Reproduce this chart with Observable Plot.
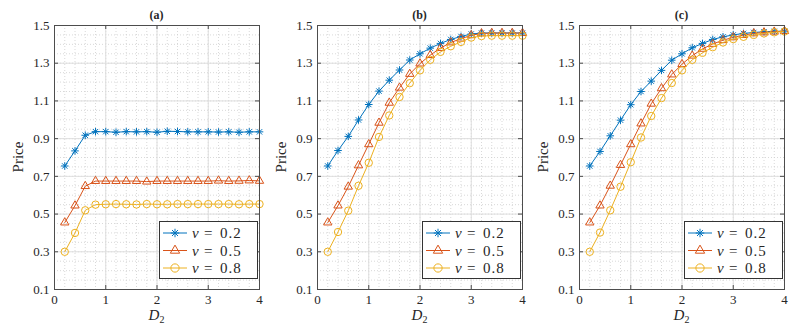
<!DOCTYPE html>
<html><head><meta charset="utf-8">
<script src="https://cdn.jsdelivr.net/npm/d3@7"></script>
<script src="https://cdn.jsdelivr.net/npm/@observablehq/plot@0.6"></script>
<style>
html,body{margin:0;padding:0;background:#fff;}
#chart{position:relative;width:797px;height:332px;color:#262626;overflow:hidden;}
.panel{position:absolute;top:0;}
.title{position:absolute;top:8px;font-weight:bold;font-size:12px;transform:translateX(-50%);white-space:nowrap;}
.ylab{position:absolute;font-size:15px;white-space:nowrap;transform:translate(-50%,-50%) rotate(-90deg);}
.xlab{position:absolute;top:307px;font-size:15px;transform:translateX(-50%);white-space:nowrap;}
.xlab i{font-style:italic;}
.xlab sub{font-size:10px;vertical-align:-3px;}
.legend{position:absolute;}
</style></head><body><div id="chart"></div>
<script>
// x values (D2)
const D2 = [0.2,0.4,0.6,0.8,1.0,1.2,1.4,1.6,1.8,2.0,2.2,2.4,2.6,2.8,3.0,3.2,3.4,3.6,3.8,4.0];
// Panel (a)
const a_nu02 = [0.755,0.835,0.918,0.937,0.937,0.934,0.937,0.936,0.937,0.934,0.939,0.938,0.936,0.936,0.936,0.935,0.936,0.934,0.936,0.936];
const a_nu05 = [0.455,0.545,0.648,0.675,0.675,0.675,0.675,0.675,0.672,0.675,0.675,0.675,0.675,0.675,0.675,0.677,0.675,0.676,0.678,0.676];
const a_nu08 = [0.300,0.400,0.520,0.550,0.552,0.553,0.552,0.551,0.553,0.552,0.552,0.553,0.553,0.553,0.553,0.553,0.553,0.552,0.553,0.553];
// Panel (b)
const b_nu02 = [0.755,0.837,0.912,0.999,1.081,1.152,1.210,1.264,1.317,1.350,1.380,1.405,1.426,1.442,1.455,1.460,1.460,1.460,1.460,1.460];
const b_nu05 = [0.455,0.545,0.645,0.758,0.870,0.984,1.090,1.170,1.243,1.298,1.343,1.380,1.410,1.430,1.448,1.458,1.460,1.460,1.460,1.460];
const b_nu08 = [0.300,0.405,0.518,0.650,0.772,0.909,1.023,1.121,1.194,1.262,1.318,1.360,1.390,1.413,1.436,1.444,1.446,1.446,1.446,1.446];
// Panel (c)
const c_nu02 = [0.755,0.832,0.915,0.998,1.080,1.150,1.205,1.262,1.316,1.350,1.382,1.405,1.426,1.440,1.450,1.458,1.463,1.467,1.469,1.470];
const c_nu05 = [0.455,0.545,0.650,0.760,0.870,0.980,1.085,1.167,1.240,1.295,1.340,1.376,1.402,1.422,1.437,1.449,1.458,1.463,1.467,1.470];
const c_nu08 = [0.300,0.402,0.520,0.645,0.775,0.906,1.020,1.115,1.195,1.262,1.318,1.355,1.385,1.410,1.428,1.440,1.450,1.458,1.464,1.468];

const panelTitles = ["(a)","(b)","(c)"];
const panelSeries = [[a_nu02,a_nu05,a_nu08],[b_nu02,b_nu05,b_nu08],[c_nu02,c_nu05,c_nu08]];
const nuValues = ["0.2","0.5","0.8"];
const colors = ["#0072BD","#D95319","#EDB120"];
const xTicks = [0,1,2,3,4];
const yTicks = [0.1,0.3,0.5,0.7,0.9,1.1,1.3,1.5];
const xMinor = d3.range(0,21).map(i=>i/5);
const yMinor = d3.range(2,31).map(i=>i/20);

// pick an installed serif font
function hasFont(name){
  const c=document.createElement("canvas").getContext("2d");
  const s="Price 0.123456789 νD";
  for(const base of ["monospace","sans-serif"]){
    c.font=`72px ${base}`;const w0=c.measureText(s).width;
    c.font=`72px "${name}", ${base}`;const w1=c.measureText(s).width;
    if(Math.abs(w0-w1)>0.5) return true;
  }
  return false;
}
const serifCandidates=["Liberation Serif","Tinos","Times New Roman","Times","Nimbus Roman","Nimbus Roman No9 L","FreeSerif","DejaVu Serif","Noto Serif","STIX Two Text","Georgia"];
const found=serifCandidates.find(hasFont);
const FONT=(found?`'${found}', `:"")+"serif";
document.getElementById("chart").style.fontFamily=FONT;

const W=265,H=332,ML=54,MR=6,MT=25,MB=43;
const plotW=W-ML-MR, plotH=H-MT-MB;
const panelLefts=[0,263,525];

const asterisk = {draw(ctx,size){const r=Math.sqrt(size/Math.PI);
  for(const a of [0,45,90,135]){const t=a*Math.PI/180,dx=r*Math.cos(t),dy=r*Math.sin(t);ctx.moveTo(-dx,-dy);ctx.lineTo(dx,dy);}}};
const symbols=[asterisk,"triangle","circle"];
const radii=[3.8,3.1,3.7];
const axisColor="#4d4d4d";

const chart=document.getElementById("chart");

panelSeries.forEach((series,p)=>{
  const left=panelLefts[p];
  const data=[];
  series.forEach((vals,s)=>vals.forEach((v,i)=>data.push({x:D2[i],y:v,s})));
  const marks=[
    Plot.ruleX(xMinor,{stroke:"#cfcfcf",strokeDasharray:"1,2",strokeWidth:0.8}),
    Plot.ruleY(yMinor,{stroke:"#cfcfcf",strokeDasharray:"1,2",strokeWidth:0.8}),
    Plot.ruleX(xTicks,{stroke:"#dedede",strokeWidth:1}),
    Plot.ruleY(yTicks,{stroke:"#dedede",strokeWidth:1}),
  ];
  series.forEach((vals,s)=>{
    const d=data.filter(r=>r.s===s);
    marks.push(Plot.line(d,{x:"x",y:"y",stroke:colors[s],strokeWidth:1}));
    marks.push(Plot.dot(d,{x:"x",y:"y",symbol:symbols[s],r:radii[s],stroke:colors[s],fill:"none",strokeWidth:1}));
  });
  marks.push(
    Plot.frame({stroke:axisColor,strokeWidth:1}),
    Plot.tickX(xTicks,{x:d=>d,insetTop:plotH-4,stroke:axisColor}),
    Plot.tickX(xTicks,{x:d=>d,insetBottom:plotH-4,stroke:axisColor}),
    Plot.tickY(yTicks,{y:d=>d,insetRight:plotW-4,stroke:axisColor}),
    Plot.tickY(yTicks,{y:d=>d,insetLeft:plotW-4,stroke:axisColor}),
    Plot.axisX(xTicks,{tickSize:0,tickPadding:5,label:null,tickFormat:d3.format("d"),fontFamily:FONT}),
    Plot.axisY(yTicks,{tickSize:0,tickPadding:5,label:null,tickFormat:d3.format(".1f"),fontFamily:FONT})
  );
  const svg=Plot.plot({
    width:W,height:H,marginLeft:ML,marginRight:MR,marginTop:MT,marginBottom:MB,
    x:{domain:[0,4]},y:{domain:[0.1,1.5]},
    style:{fontFamily:FONT,fontSize:"13px",color:"#262626",background:"transparent",overflow:"visible"},
    marks
  });
  svg.classList.add("panel");
  svg.style.left=left+"px";
  chart.appendChild(svg);

  const cx=left+ML+plotW/2;
  const t=document.createElement("div");t.className="title";t.textContent=panelTitles[p];
  t.style.left=cx+"px";chart.appendChild(t);
  const yl=document.createElement("div");yl.className="ylab";yl.textContent="Price";
  yl.style.left=(left+18)+"px";yl.style.top=(MT+plotH/2)+"px";chart.appendChild(yl);
  const xl=document.createElement("div");xl.className="xlab";xl.innerHTML="<i>D</i><sub>2</sub>";
  xl.style.left=cx+"px";chart.appendChild(xl);

  // legend
  const lw=99,lh=58;
  const lg=d3.create("svg").attr("class","legend").attr("width",lw).attr("height",lh)
    .style("left",(left+ML+plotW-lw-1)+"px").style("top","221px");
  lg.append("rect").attr("x",0.5).attr("y",0.5).attr("width",lw-1).attr("height",lh-1).attr("fill","#fff").attr("stroke","#333").attr("stroke-width",1);
  nuValues.forEach((nv,s)=>{
    const cy=12+s*17.5;
    lg.append("line").attr("x1",4).attr("x2",28).attr("y1",cy).attr("y2",cy).attr("stroke",colors[s]).attr("stroke-width",1);
    const sym=d3.symbol().type(typeof symbols[s]==="string"?(symbols[s]==="triangle"?d3.symbolTriangle:d3.symbolCircle):symbols[s]).size(Math.PI*radii[s]*radii[s]*1.25);
    lg.append("path").attr("d",sym()).attr("transform",`translate(16,${cy})`).attr("fill","none").attr("stroke",colors[s]).attr("stroke-width",1);
    const g=lg.append("g").attr("font-family",FONT).attr("font-size",15).attr("fill","#262626");
    g.append("text").attr("x",33).attr("y",cy+5).attr("font-style","italic").text("ν");
    g.append("text").attr("x",45).attr("y",cy+5).text("=");
    g.append("text").attr("x",61).attr("y",cy+5).attr("letter-spacing","1").text(nv);
  });
  chart.appendChild(lg.node());
});
</script></body></html>
